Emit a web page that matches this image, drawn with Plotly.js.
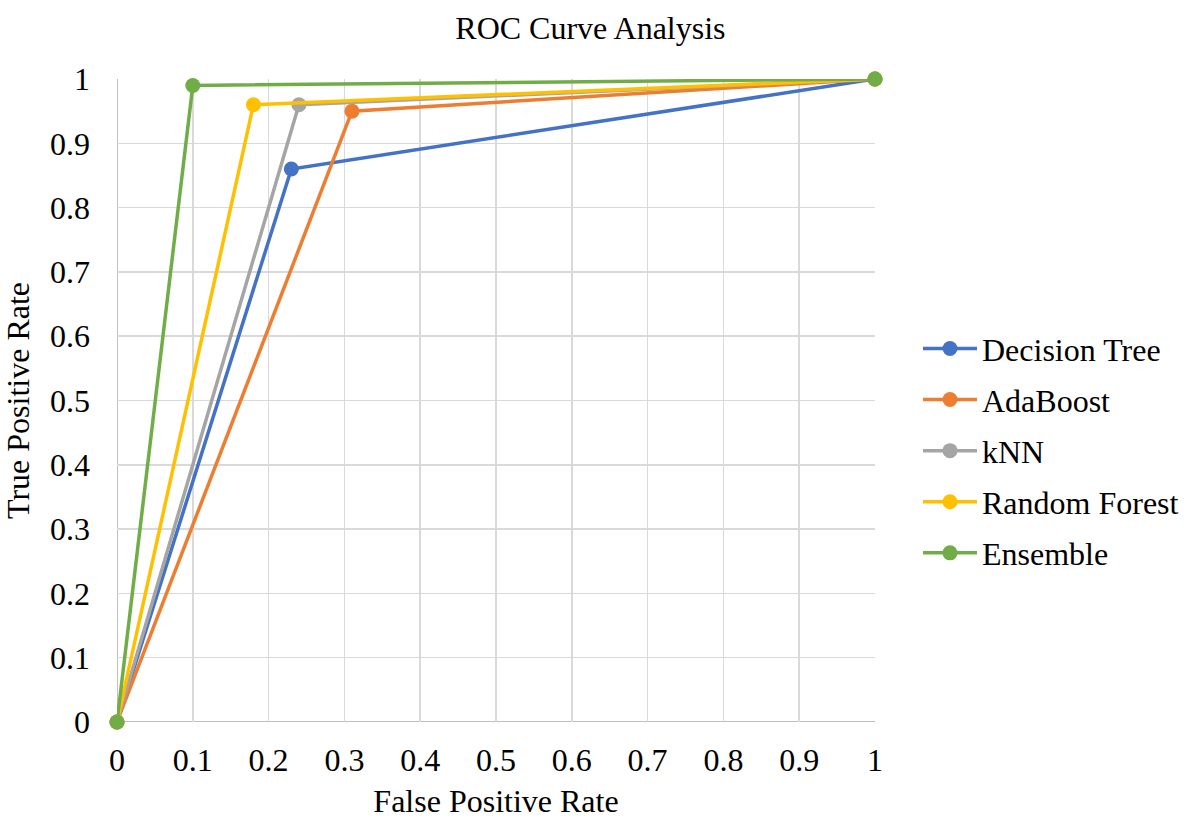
<!DOCTYPE html>
<html><head><meta charset="utf-8">
<script src="https://cdn.plot.ly/plotly-3.0.1.min.js"></script>
<style>body{margin:0;background:#fff}#c{width:1188px;height:819px}</style>
</head><body><div id="c"></div>
<script>
const seriesNames = ["Decision Tree", "AdaBoost", "kNN", "Random Forest", "Ensemble"];
const fprDT = [0, 0.23, 1];
const tprDT = [0, 0.86, 1];
const fprAda = [0, 0.31, 1];
const tprAda = [0, 0.95, 1];
const fprKNN = [0, 0.24, 1];
const tprKNN = [0, 0.96, 1];
const fprRF = [0, 0.18, 1];
const tprRF = [0, 0.96, 1];
const fprEns = [0, 0.10, 1];
const tprEns = [0, 0.99, 1];
const tickVals = [0, 0.1, 0.2, 0.3, 0.4, 0.5, 0.6, 0.7, 0.8, 0.9, 1];
const tickText = ["0", "0.1", "0.2", "0.3", "0.4", "0.5", "0.6", "0.7", "0.8", "0.9", "1"];

const colors = ["#4472C4", "#ED7D31", "#A5A5A5", "#FFC000", "#70AD47"];
const xs = [fprDT, fprAda, fprKNN, fprRF, fprEns];
const ys = [tprDT, tprAda, tprKNN, tprRF, tprEns];
const font = "Liberation Serif";

const traces = seriesNames.map((n, i) => ({
  x: xs[i], y: ys[i], name: n, type: "scatter", mode: "lines+markers",
  legendgroup: "g" + i,
  line: {color: colors[i], width: 3.5},
  marker: {color: colors[i], size: 15},
  cliponaxis: false
}));

const axisCommon = {
  range: [0, 1], tickvals: tickVals, ticktext: tickText,
  showgrid: true, gridcolor: "#d9d9d9", gridwidth: 1.5,
  zeroline: false, showline: false, ticks: "",
  tickfont: {family: font, size: 32, color: "#000"}
};

const layout = {
  width: 1188, height: 819,
  margin: {l: 117, r: 313, t: 79, b: 97, autoexpand: false},
  paper_bgcolor: "#fff", plot_bgcolor: "#fff",
  title: {text: "ROC Curve Analysis", font: {family: font, size: 32, color: "#000"}, x: 0.497, xanchor: "center", y: 0.966, yanchor: "middle"},
  xaxis: Object.assign({}, axisCommon, {
    title: {text: "False Positive Rate", font: {family: font, size: 32, color: "#000"}, standoff: 12},
    ticklabelstandoff: 16
  }),
  yaxis: Object.assign({}, axisCommon, {
    title: {text: "True Positive Rate", font: {family: font, size: 32, color: "#000"}, standoff: 12},
    ticklabelstandoff: 26
  }),
  legend: {
    x: 1.0, xanchor: "left", y: 0.422, yanchor: "middle",
    font: {family: font, size: 32, color: "#000"},
    itemwidth: 54, tracegroupgap: 6.5
  },
  shapes: [
    {type: "line", xref: "x", yref: "paper", x0: 0, x1: 0, y0: 0, y1: 1, line: {color: "#bfbfbf", width: 2}, layer: "below"},
    {type: "line", xref: "paper", yref: "y", x0: 0, x1: 1, y0: 0, y1: 0, line: {color: "#bfbfbf", width: 2}, layer: "below"}
  ]
};
layout.legend.x = 1 + 43 / 758;

Plotly.newPlot("c", traces, layout, {displayModeBar: false, staticPlot: true});
</script>
</body></html>
